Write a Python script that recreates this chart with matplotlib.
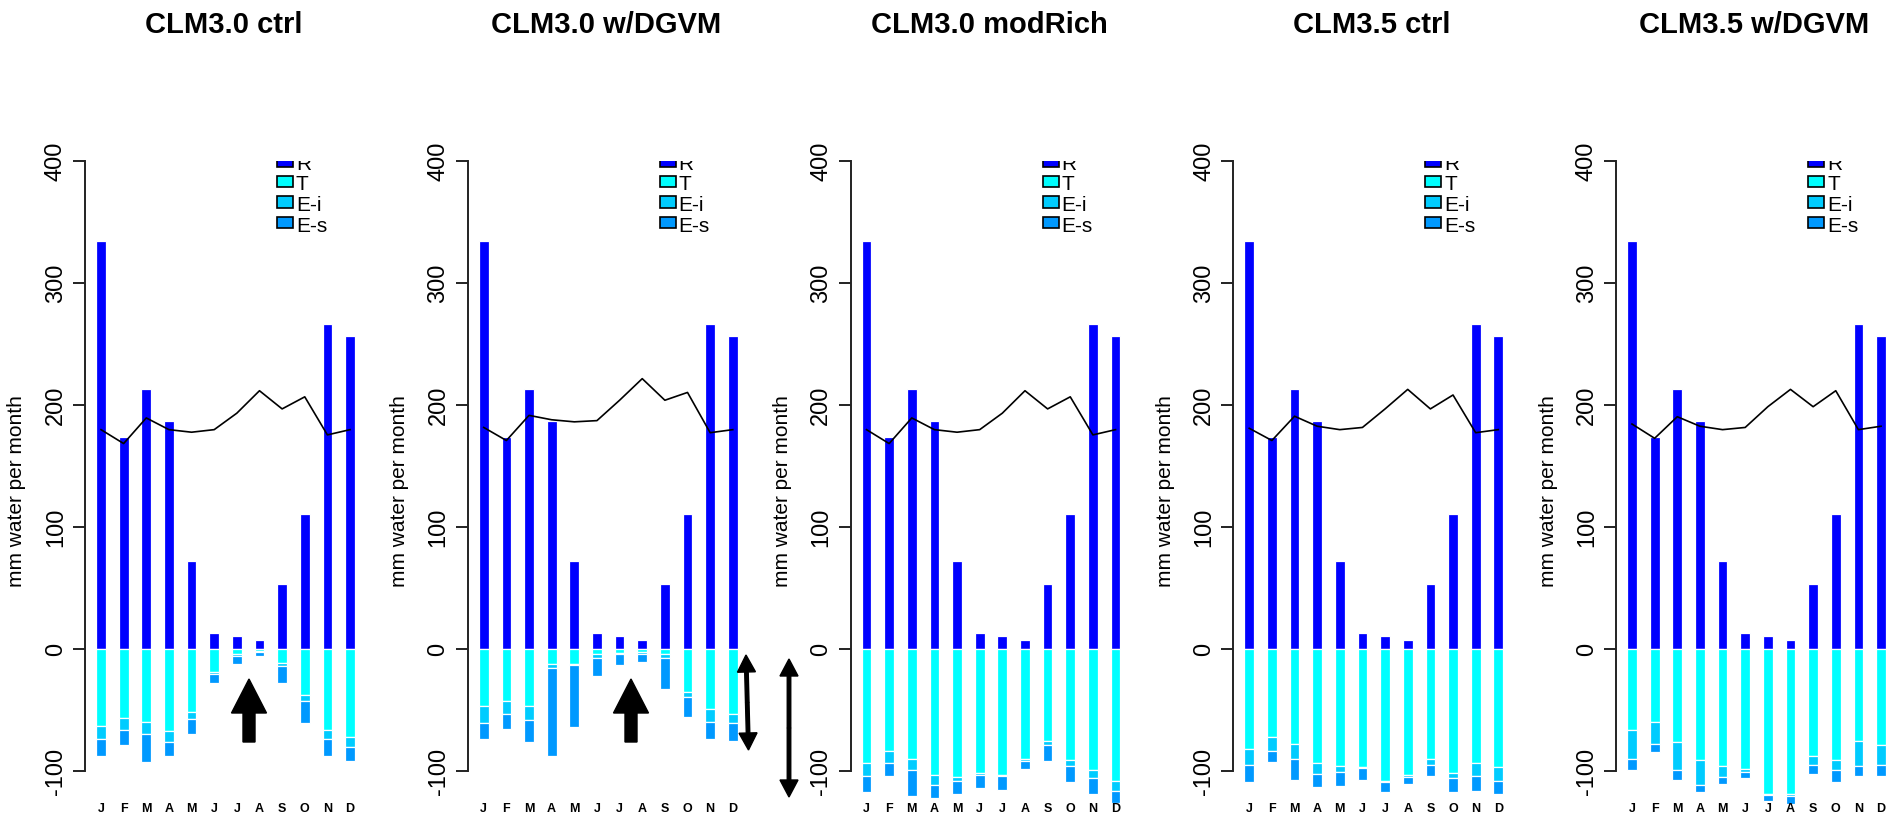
import matplotlib
matplotlib.use('Agg')
import matplotlib.pyplot as plt
import numpy as np
from matplotlib.patches import Rectangle, FancyArrow

plt.rcParams['font.family'] = ['Liberation Sans', 'DejaVu Sans']

# ---------------- data ----------------
months = ['J', 'F', 'M', 'A', 'M', 'J', 'J', 'A', 'S', 'O', 'N', 'D']
titles = ['CLM3.0 ctrl', 'CLM3.0 w/DGVM', 'CLM3.0 modRich', 'CLM3.5 ctrl', 'CLM3.5 w/DGVM']
legend_labels = ['R', 'T', 'E-i', 'E-s']
y_ticks = [-100, 0, 100, 200, 300, 400]
y_tick_labels = ['-100', '0', '100', '200', '300', '400']

rain = [334.5, 173.5, 213.5, 186.5, 72.5, 13.5, 10.5, 7.0, 53.0, 110.5, 266.0, 256.5]

line_clm30_ctrl = [179.8, 168.4, 189.4, 179.8, 177.7, 179.8, 193.3, 211.7, 196.8, 206.7, 175.5, 179.8]
line_clm30_dgvm = [181.6, 170.9, 191.5, 187.9, 186.2, 187.2, 203.9, 221.6, 203.9, 210.3, 177.3, 179.8]
line_clm30_rich = [179.8, 168.4, 189.4, 179.8, 177.7, 179.8, 193.3, 211.7, 196.8, 206.7, 175.5, 179.8]
line_clm35_ctrl = [180.9, 170.9, 190.8, 182.6, 179.8, 181.6, 196.8, 212.8, 196.8, 208.2, 177.3, 179.8]
line_clm35_dgvm = [184.4, 172.7, 190.4, 182.6, 179.8, 181.6, 198.6, 212.8, 198.6, 211.7, 179.8, 182.6]

T_clm30_ctrl = [63.0, 56.5, 59.5, 67.0, 51.5, 19.0, 4.5, 1.5, 11.5, 38.0, 66.5, 72.5]
Ei_clm30_ctrl = [10.5, 10.0, 10.0, 9.0, 5.5, 1.5, 1.5, 1.0, 2.5, 5.0, 7.0, 7.5]
Es_clm30_ctrl = [14.5, 12.0, 23.5, 12.0, 13.0, 7.5, 6.5, 3.5, 14.0, 18.0, 14.5, 11.5]

T_clm30_dgvm = [47.0, 43.0, 47.0, 12.0, 12.0, 4.5, 3.0, 2.5, 4.5, 35.0, 49.5, 53.0]
Ei_clm30_dgvm = [13.5, 10.0, 11.5, 3.5, 1.5, 2.5, 1.5, 1.5, 2.5, 4.0, 10.0, 8.0]
Es_clm30_dgvm = [13.5, 12.5, 18.0, 72.5, 50.5, 15.0, 9.0, 7.0, 26.0, 17.0, 14.5, 14.5]

T_clm30_rich = [93.5, 84.0, 90.0, 103.0, 105.0, 101.5, 103.0, 90.5, 75.5, 91.0, 99.0, 108.0]
Ei_clm30_rich = [11.0, 9.5, 9.5, 8.5, 3.0, 2.0, 1.5, 1.0, 3.5, 4.5, 7.0, 8.0]
Es_clm30_rich = [12.5, 11.0, 21.0, 11.0, 11.0, 10.5, 11.0, 6.5, 12.5, 13.5, 12.5, 10.0]

T_clm35_ctrl = [82.0, 72.5, 77.5, 93.5, 95.5, 96.5, 108.0, 103.0, 90.0, 101.5, 93.5, 97.0]
Ei_clm35_ctrl = [13.0, 11.0, 12.5, 9.0, 5.0, 1.0, 1.0, 2.0, 5.0, 4.5, 11.0, 11.0]
Es_clm35_ctrl = [14.0, 9.5, 17.0, 11.0, 11.5, 9.5, 8.0, 5.5, 9.5, 11.0, 11.5, 11.0]

T_clm35_dgvm = [66.5, 59.5, 76.5, 91.0, 95.5, 98.0, 118.5, 118.5, 88.0, 91.0, 75.5, 79.0]
Ei_clm35_dgvm = [23.5, 18.0, 23.0, 20.5, 9.5, 3.0, 1.0, 2.0, 7.0, 8.5, 20.0, 16.0]
Es_clm35_dgvm = [9.0, 7.0, 7.5, 5.5, 6.0, 5.0, 5.0, 6.5, 7.5, 9.5, 9.0, 9.0]

panel_lines = [line_clm30_ctrl, line_clm30_dgvm, line_clm30_rich, line_clm35_ctrl, line_clm35_dgvm]
panel_T = [T_clm30_ctrl, T_clm30_dgvm, T_clm30_rich, T_clm35_ctrl, T_clm35_dgvm]
panel_Ei = [Ei_clm30_ctrl, Ei_clm30_dgvm, Ei_clm30_rich, Ei_clm35_ctrl, Ei_clm35_dgvm]
panel_Es = [Es_clm30_ctrl, Es_clm30_dgvm, Es_clm30_rich, Es_clm35_ctrl, Es_clm35_dgvm]

# ---------------- style ----------------
C_R = '#0000FF'
C_T = '#00FFFF'
C_EI = '#00CCFF'
C_ES = '#0099FF'
colors = [C_R, C_T, C_EI, C_ES]

W, H = 1900, 822
fig = plt.figure(figsize=(W / 100, H / 100), dpi=100)
fig.patch.set_facecolor('white')

ax_w = 277.0
top_px, bot_px = 161.0, 807.6
ax_h = bot_px - top_px
px_per_month = 22.64
x_left = -16.0 / px_per_month
x_right = x_left + ax_w / px_per_month
bw = 0.43

x = np.arange(12)

for i in range(5):
    L = 85 + 382.75 * i
    ax = fig.add_axes([L / W, 1 - bot_px / H, ax_w / W, ax_h / H])
    ax.set_facecolor('none')
    T = np.array(panel_T[i])
    Ei = np.array(panel_Ei[i])
    Es = np.array(panel_Es[i])
    ek = dict(edgecolor='white', linewidth=0.9)
    ax.bar(x, rain, width=bw, color=C_R, **ek)
    ax.bar(x, -T, width=bw, color=C_T, **ek)
    ax.bar(x, -Ei, bottom=-T, width=bw, color=C_EI, **ek)
    ax.bar(x, -Es, bottom=-(T + Ei), width=bw, color=C_ES, **ek)
    ax.plot(x, panel_lines[i], color='black', lw=1.2, zorder=5)

    ax.set_xlim(x_left, x_right)
    ax.set_ylim(-130, 400)
    for s in ['top', 'right', 'bottom']:
        ax.spines[s].set_visible(False)
    ax.spines['left'].set_bounds(-100, 400)
    ax.spines['left'].set_linewidth(1.4)
    ax.spines['left'].set_color('#222222')

    ax.set_yticks(y_ticks)
    ax.set_yticklabels(y_tick_labels, rotation=90, va='center', fontsize=17)
    ax.tick_params(axis='y', length=8.6, width=1.4, pad=4.5, direction='out', color='#222222')
    ax.set_xticks(x)
    ax.set_xticklabels(months, fontsize=9, fontweight='bold')
    ax.tick_params(axis='x', length=0, pad=-3)

    ta = ax.transAxes
    ax.text(-68.0 / ax_w, 0.49, 'mm water per month', rotation=90, ha='center', va='center',
            fontsize=15, transform=ta, clip_on=False)

    # legend
    for j, (lab, col) in enumerate(zip(legend_labels, colors)):
        ypx = top_px + 20.5 * j
        yc = (bot_px - ypx) / ax_h
        bh = 11.7 / ax_h
        ax.add_patch(Rectangle((192.0 / ax_w, yc - bh / 2), 16.0 / ax_w, bh, transform=ta,
                               facecolor=col, edgecolor='black', lw=1.2, clip_on=True, zorder=6))
        ax.text(211.0 / ax_w, yc - 3.5 / ax_h, lab, transform=ta, fontsize=15, ha='left',
                va='center', clip_on=True, zorder=6)

    fig.text((L + ax_w / 2) / W, 1 - 25.0 / H, titles[i], ha='center', va='center',
             fontsize=21, fontweight='bold')

# ---------------- annotation arrows ----------------
ov = fig.add_axes([0, 0, 1, 1], zorder=10)
ov.set_xlim(0, W)
ov.set_ylim(H, 0)
ov.axis('off')
ov.patch.set_alpha(0)

for cx in [249.0, 631.0]:
    ov.add_patch(FancyArrow(cx, 742, 0, -63, width=12, head_width=35, head_length=34,
                            length_includes_head=True, color='black'))


def double_arrow(x0, y0, x1, y1):
    mx, my = (x0 + x1) / 2, (y0 + y1) / 2
    for (ex, ey) in [(x0, y0), (x1, y1)]:
        ov.add_patch(FancyArrow(mx, my, ex - mx, ey - my, width=3.5, head_width=18,
                                head_length=17, length_includes_head=True, color='black'))


double_arrow(746.0, 655.0, 748.5, 750.0)
double_arrow(789.0, 659.0, 789.0, 797.0)

fig.savefig('out.png', dpi=100, facecolor='white')
